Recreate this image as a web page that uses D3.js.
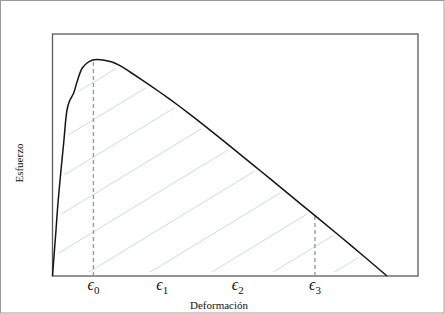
<!DOCTYPE html>
<html>
<head>
<meta charset="utf-8">
<script src="https://cdnjs.cloudflare.com/ajax/libs/d3/7.8.5/d3.min.js"></script>
<style>
  body { margin: 0; background: #fff; }
  svg { display: block; }
  text { font-family: "Liberation Serif", "DejaVu Serif", serif; fill: #111; }
</style>
</head>
<body>
<div id="chart"></div>
<script>
// curve (strain, stress)
const strain = [0, 0.033, 0.096, 0.15, 0.233, 0.306, 0.397, 0.465, 0.58, 0.67, 0.807, 0.944, 1.081, 1.218, 1.382, 1.628, 1.847, 2.121, 2.394, 2.668, 2.941, 3.215, 3.489, 3.762, 4.036, 4.856, 5.677, 6.498, 7.182, 8.14, 9.152]
const stress = [0, 6.61, 19.01, 30.17, 43.8, 54.96, 68.6, 72.31, 75.62, 80.17, 85.74, 88.02, 89.17, 89.46, 89.26, 88.4, 86.9, 84.3, 81.6, 78.8, 75.93, 72.97, 69.93, 66.82, 63.61, 53.69, 43.59, 33.41, 24.93, 12.95, 0]

const tickStrain = [1.12, 3.0, 5.07, 7.18]
const tickSub = ["0", "1", "2", "3"]

// dashed guides at eps0 and eps3
const markStrain = [1.12, 7.18]
const markStress = [89.3, 24.9]

// hatching lines
const hatchStart = 0.82, hatchStep = 1.68, hatchSlope = 9.2

const W = 445, H = 314
const margin = {left: 52.5, right: 27, top: 34, bottom: 38}

const svg = d3.select("#chart").append("svg")
    .attr("width", W)
    .attr("height", H)

const x = d3.scaleLinear().domain([0, 10]).range([margin.left, W - margin.right])
const y = d3.scaleLinear().domain([0, 100]).range([H - margin.bottom, margin.top])

const pts = strain.map((s, i) => [s, stress[i]])

const area = d3.area()
    .x(d => x(d[0]))
    .y0(y(0))
    .y1(d => y(d[1]))
    .curve(d3.curveCatmullRom.alpha(0.5))

const line = d3.line()
    .x(d => x(d[0]))
    .y(d => y(d[1]))
    .curve(d3.curveCatmullRom.alpha(0.5))

svg.append("clipPath").attr("id", "under")
    .append("path")
    .attr("d", area(pts))

// outer frame
svg.append("rect")
    .attr("x", 0.5).attr("y", 0.5)
    .attr("width", W - 1.5).attr("height", H - 1.5)
    .attr("fill", "none")
    .attr("stroke", "#9a9a9a")

const hatch = d3.range(hatchStart - 7 * hatchStep, 10, hatchStep)
svg.append("g")
    .attr("clip-path", "url(#under)")
    .selectAll("line")
    .data(hatch)
    .enter()
    .append("line")
        .attr("x1", d => x(d))
        .attr("y1", y(0))
        .attr("x2", d => x(d + 100 / hatchSlope))
        .attr("y2", y(100))
        .attr("stroke", "#c4dcf1")
        .attr("stroke-width", 1)

// keep hatching a little off the curve and the axis
svg.append("path")
    .attr("d", line(pts))
    .attr("fill", "none")
    .attr("stroke", "#fff")
    .attr("stroke-width", 8)
svg.append("rect")
    .attr("x", x(0)).attr("y", y(0) - 4)
    .attr("width", x(10) - x(0)).attr("height", 4)
    .attr("fill", "#fff")

// plot box
svg.append("rect")
    .attr("x", x(0)).attr("y", y(100))
    .attr("width", x(10) - x(0)).attr("height", y(0) - y(100))
    .attr("fill", "none")
    .attr("stroke", "#5a5a5a")
    .attr("stroke-width", 1.3)

svg.selectAll(".guide")
    .data(markStrain)
    .enter()
    .append("line")
        .attr("class", "guide")
        .attr("x1", d => x(d))
        .attr("x2", d => x(d))
        .attr("y1", y(0))
        .attr("y2", (d, i) => y(markStress[i]))
        .attr("stroke", "#9a9a9a")
        .attr("stroke-width", 1.4)
        .attr("stroke-dasharray", "4,3")

svg.append("path")
    .attr("d", line(pts))
    .attr("fill", "none")
    .attr("stroke", "#151515")
    .attr("stroke-width", 1.5)

// tick labels
const lab = svg.selectAll(".tick")
    .data(tickStrain)
    .enter()
    .append("text")
        .attr("class", "tick")
        .attr("x", d => x(d))
        .attr("y", 290)
        .attr("text-anchor", "middle")
lab.append("tspan")
    .style("font-style", "italic")
    .style("font-size", "16px")
    .text("ϵ")
lab.append("tspan")
    .attr("dy", 4)
    .style("font-size", "11px")
    .text((d, i) => tickSub[i])

svg.append("text")
    .attr("x", 219)
    .attr("y", 309)
    .attr("text-anchor", "middle")
    .style("font-size", "11px")
    .text("Deformación")

svg.append("text")
    .attr("transform", "translate(23,163) rotate(-90)")
    .attr("text-anchor", "middle")
    .style("font-size", "11px")
    .text("Esfuerzo")
</script>
</body>
</html>
